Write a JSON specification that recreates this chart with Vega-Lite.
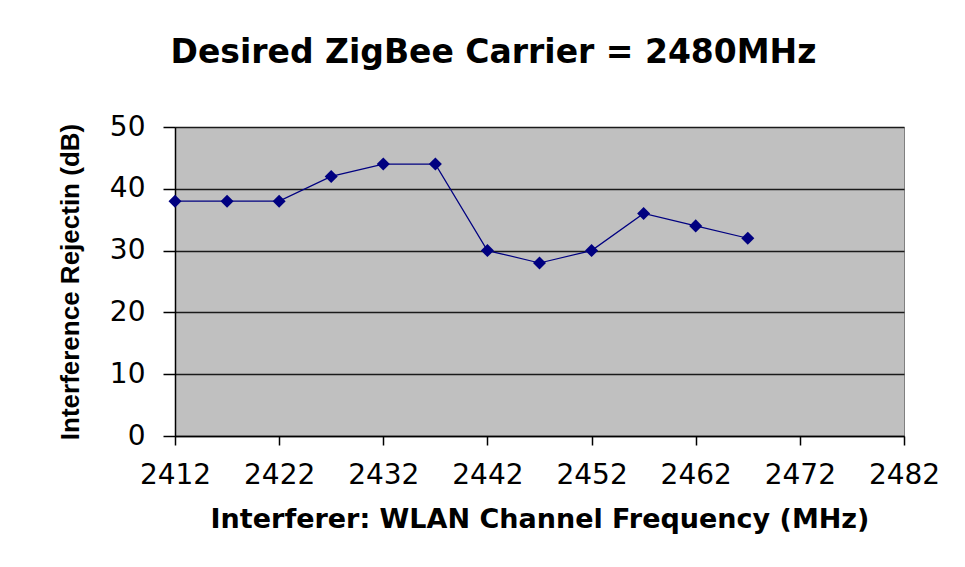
{
  "$schema": "https://vega.github.io/schema/vega-lite/v6.json",
  "width": 729,
  "height": 309,
  "autosize": {"type": "none"},
  "padding": {"left": 175, "top": 127, "right": 61, "bottom": 131},
  "background": "white",
  "title": {
    "text": "Desired ZigBee Carrier = 2480MHz",
    "font": "DejaVu Sans",
    "fontSize": 33,
    "fontWeight": "bold",
    "color": "black",
    "frame": "group",
    "anchor": "middle",
    "baseline": "alphabetic",
    "offset": 17,
    "dx": -46
  },
  "data": {
    "values": [
      {"freq": 2412, "rej": 38},
      {"freq": 2417, "rej": 38},
      {"freq": 2422, "rej": 38},
      {"freq": 2427, "rej": 42},
      {"freq": 2432, "rej": 44},
      {"freq": 2437, "rej": 44},
      {"freq": 2442, "rej": 30},
      {"freq": 2447, "rej": 28},
      {"freq": 2452, "rej": 30},
      {"freq": 2457, "rej": 36},
      {"freq": 2462, "rej": 34},
      {"freq": 2467, "rej": 32}
    ]
  },
  "encoding": {
    "x": {
      "field": "freq",
      "type": "quantitative",
      "scale": {"domain": [2412, 2482], "nice": false, "zero": false},
      "axis": {
        "title": "Interferer: WLAN Channel Frequency (MHz)",
        "values": [2412, 2422, 2432, 2442, 2452, 2462, 2472, 2482],
        "format": "d",
        "grid": false,
        "labelFlush": false,
        "labelOverlap": false,
        "labelFont": "DejaVu Sans",
        "labelFontSize": 28,
        "labelColor": "black",
        "labelPadding": 16,
        "tickSize": 9,
        "tickWidth": 1.5,
        "tickColor": "black",
        "domainColor": "black",
        "domainWidth": 1.5,
        "titleFont": "DejaVu Sans",
        "titleFontSize": 27,
        "titleFontWeight": "bold",
        "titleColor": "black",
        "titlePadding": 17
      }
    },
    "y": {
      "field": "rej",
      "type": "quantitative",
      "scale": {"domain": [0, 50], "nice": false},
      "axis": {
        "title": "Interference Rejectin (dB)",
        "values": [0, 10, 20, 30, 40, 50],
        "grid": true,
        "gridColor": "#1a1a1a",
        "gridWidth": 1.6,
        "gridOpacity": 1,
        "labelFont": "DejaVu Sans",
        "labelFontSize": 28,
        "labelColor": "black",
        "labelPadding": 18,
        "tickSize": 12,
        "tickWidth": 1.5,
        "tickColor": "black",
        "domainColor": "black",
        "domainWidth": 1.5,
        "titleFont": "Liberation Sans",
        "titleFontSize": 26,
        "titleFontWeight": "bold",
        "titleColor": "black",
        "titlePadding": 26
      }
    }
  },
  "layer": [
    {"mark": {"type": "line", "color": "#000080", "strokeWidth": 1.2}},
    {"mark": {"type": "point", "shape": "diamond", "filled": true, "color": "#000080", "opacity": 1, "size": 170}}
  ],
  "config": {
    "view": {"fill": "#c0c0c0", "stroke": "#808080", "strokeWidth": 1}
  }
}
